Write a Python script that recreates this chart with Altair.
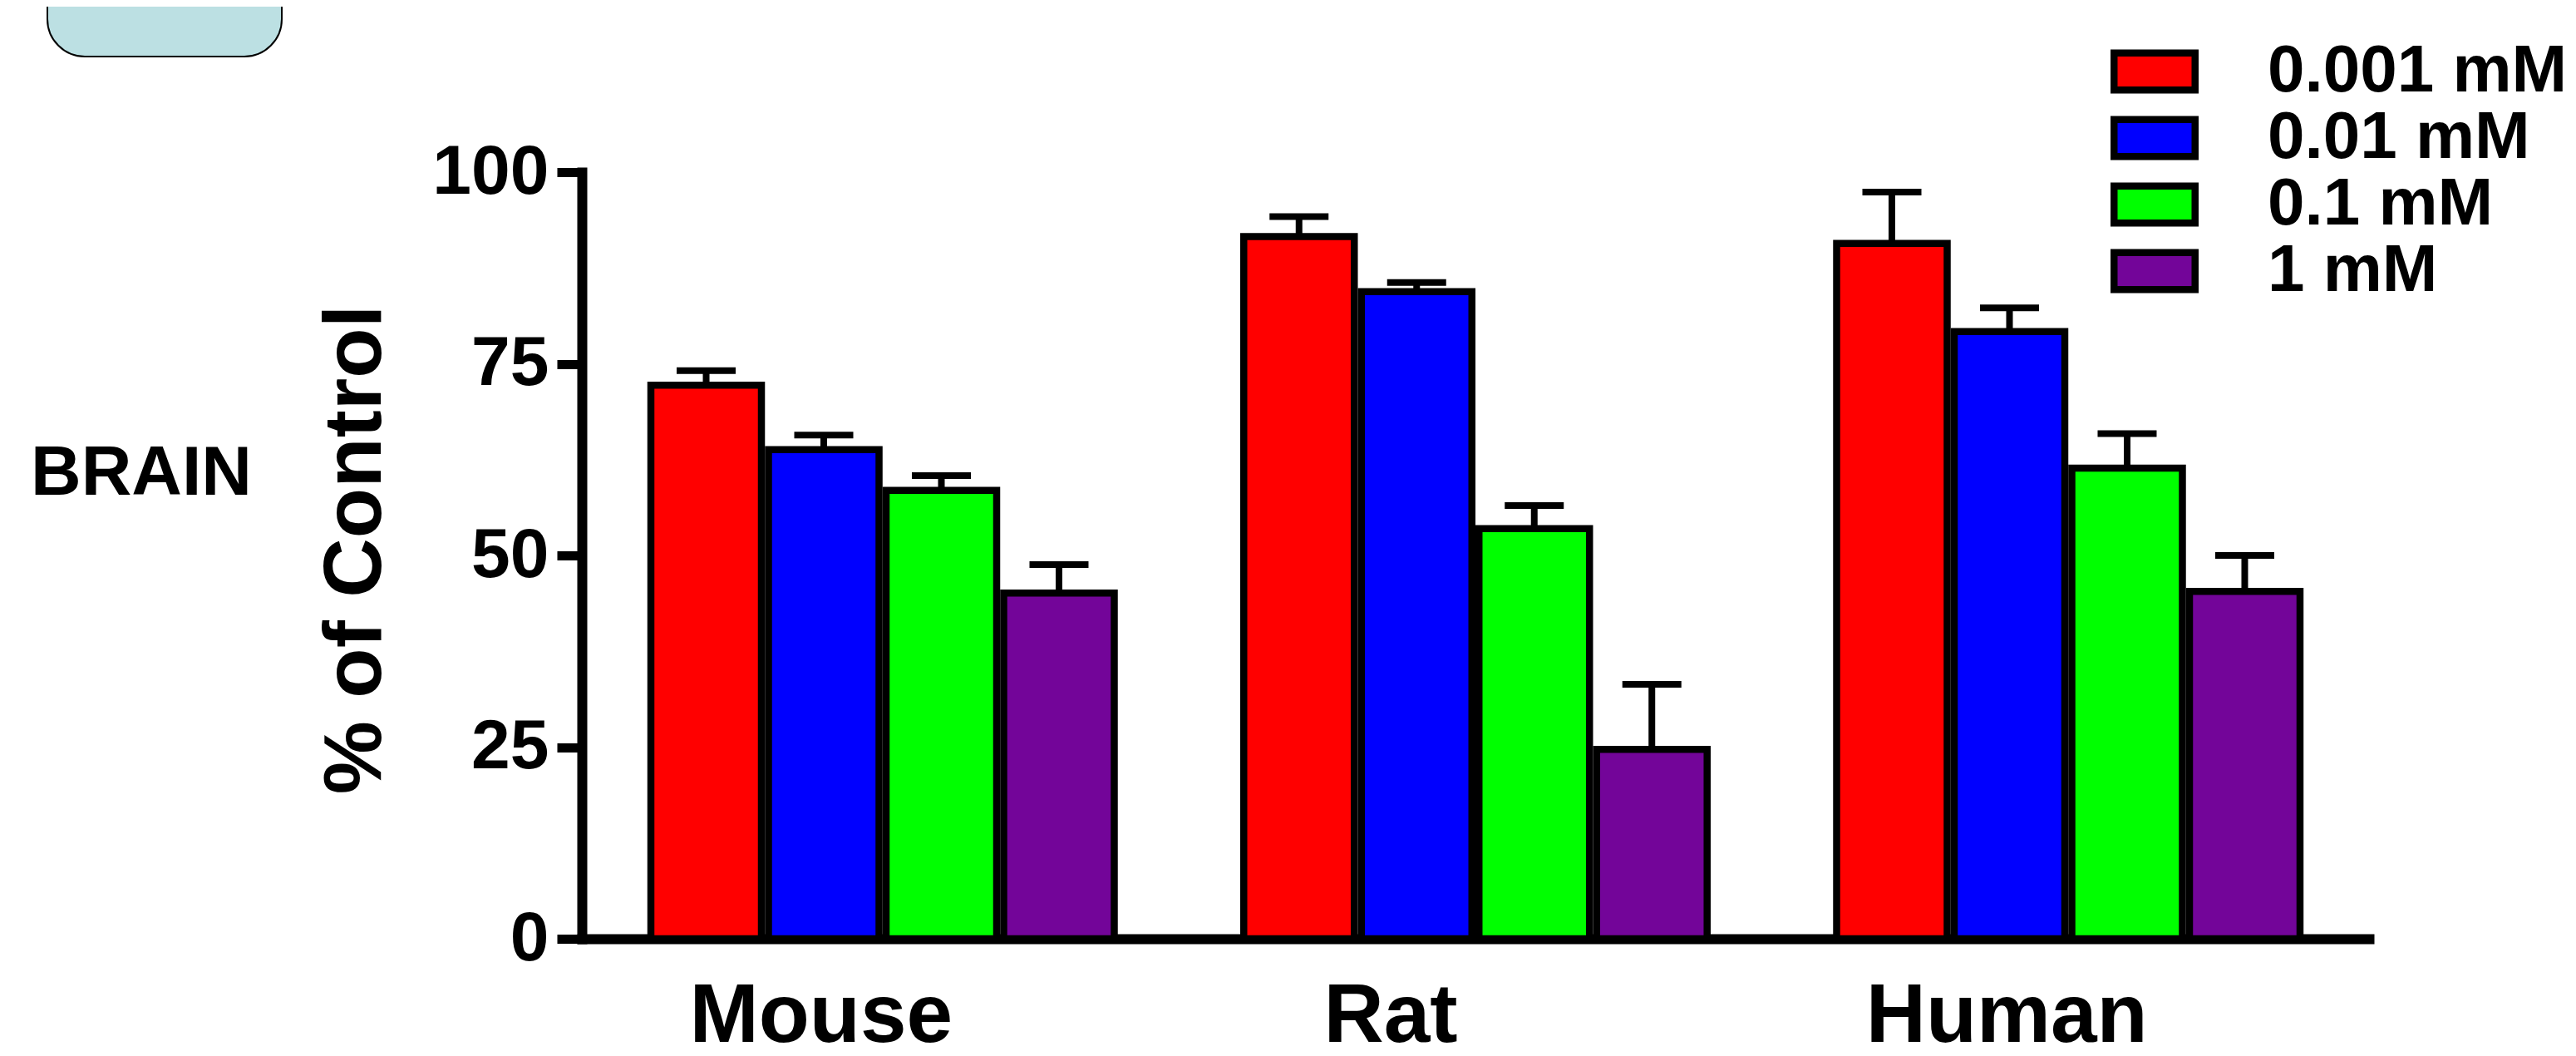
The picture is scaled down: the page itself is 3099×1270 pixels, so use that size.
import altair as alt
import pandas as pd

species = ["Mouse", "Rat", "Human"]
concentrations = ["0.001 mM", "0.01 mM", "0.1 mM", "1 mM"]
mouse_vals = [72.2, 63.8, 58.5, 45.1]
rat_vals = [91.6, 84.4, 53.5, 24.7]
human_vals = [90.7, 79.2, 61.4, 45.3]
mouse_err = [1.9, 1.9, 1.9, 3.7]
rat_err = [2.6, 1.2, 3.0, 8.5]
human_err = [6.7, 3.1, 4.5, 4.7]
colors = ["#FF0000", "#0000FF", "#00FF00", "#730599"]
y_ticks = [0, 25, 50, 75, 100]
side_label = ["BRAIN"]

rows = []
for sp, vals, errs in zip(species, [mouse_vals, rat_vals, human_vals],
                          [mouse_err, rat_err, human_err]):
    for c, v, e in zip(concentrations, vals, errs):
        rows.append({"species": sp, "conc": c, "value": v, "upper": v + e})
df = pd.DataFrame(rows)

W, H = 2150, 922
FONT = "Liberation Sans"

x_axis = alt.Axis(title=None, labelAngle=0, ticks=False, labelFontSize=100,
                  labelFont=FONT, labelFontWeight="bold", labelColor="black",
                  labelPadding=44,
                  labelOffset={"condition": {"test": "datum.value === 'Rat'",
                                             "value": -102},
                               "value": -74},
                  labelLimit=0,
                  domainColor="black", domainWidth=12, domainCap="square")
y_axis = alt.Axis(values=y_ticks, title="% of Control", grid=False,
                  tickSize=30, tickWidth=11, tickColor="black",
                  domainColor="black", domainWidth=12, domainCap="square",
                  labelFontSize=84, labelFont=FONT, labelFontWeight="bold",
                  labelColor="black", labelPadding=10, labelFlush=False,
                  titleFont=FONT, titleFontSize=99,
                  titleFontWeight="bold", titleColor="black", titleAngle=270,
                  titleX=-273, titleY=453.5, titleAlign="center",
                  titleBaseline="middle", titleLimit=0)

x_enc = alt.X("species:N", sort=species,
              scale=alt.Scale(paddingInner=0.2184, paddingOuter=0.1164),
              axis=x_axis)
xoff = alt.XOffset("conc:N", sort=concentrations,
                   scale=alt.Scale(paddingInner=0.06, paddingOuter=0))
x_plain = alt.X("species:N", sort=species)
xoff_plain = alt.XOffset("conc:N", sort=concentrations)

color = alt.Color(
    "conc:N", sort=concentrations,
    scale=alt.Scale(domain=concentrations, range=colors),
    legend=alt.Legend(title=None, orient="none", direction="vertical",
                      legendX=1839, legendY=-158,
                      symbolType="M-1,-0.456H1V0.456H-1Z", symbolSize=9506,
                      symbolStrokeColor="black", symbolStrokeWidth=8.5,
                      symbolOpacity=1, labelFontSize=80, labelFont=FONT,
                      labelFontWeight="bold", labelColor="black",
                      labelOffset=83, labelLimit=0, rowPadding=0,
                      clipHeight=74, padding=0))

bars = alt.Chart(df).mark_bar(stroke="black", strokeWidth=8.5,
                              strokeJoin="miter").encode(
    x=x_enc, xOffset=xoff,
    y=alt.Y("value:Q", scale=alt.Scale(domain=[0, 100], nice=False),
            axis=y_axis),
    color=color)

stems = alt.Chart(df).mark_rule(color="black", strokeWidth=8,
                                strokeCap="butt").encode(
    x=x_plain, xOffset=xoff_plain, y="value:Q", y2="upper:Q")

caps = alt.Chart(df).mark_tick(color="black", thickness=8, size=71,
                               orient="horizontal", opacity=1).encode(
    x=x_plain, xOffset=xoff_plain, y="upper:Q")

box = alt.Chart(pd.DataFrame({"k": [0]})).mark_rect(
    fill="#BCE0E3", stroke="black", strokeWidth=2, cornerRadius=45).encode(
    x=alt.value(-643), x2=alt.value(-361), y=alt.value(-300), y2=alt.value(-139))

brain = alt.Chart(pd.DataFrame({"t": side_label})).mark_text(
    font=FONT, fontSize=84, fontWeight="bold", color="black",
    align="left", baseline="alphabetic").encode(
    text="t:N", x=alt.value(-663), y=alt.value(388))

chart = alt.layer(box, brain, bars, stems, caps).properties(
    width=W, height=H,
    background="white",
    autosize=alt.AutoSizeParams(type="none"),
    padding={"left": 692, "top": 199, "right": 241, "bottom": 129},
).configure_view(stroke=None)

chart.save("out.html", embed_options={"renderer": "svg", "actions": False})
